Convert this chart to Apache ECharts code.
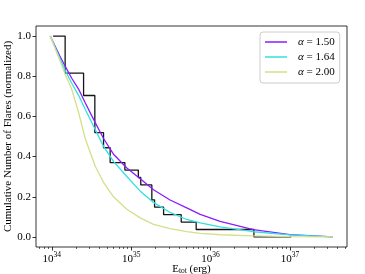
<!DOCTYPE html>
<html><head><meta charset="utf-8">
<script src="https://cdn.jsdelivr.net/npm/echarts@6/dist/echarts.min.js"></script>
<style>html,body{margin:0;padding:0;background:#fff}#c{width:365px;height:274px}</style>
</head><body><div id="c"></div>
<script>
const FONT = '"Liberation Serif", "DejaVu Serif", serif';

// Observed flares: total energy (erg) and normalized cumulative number
const flareEnergy = [1.035e34, 1.47e34, 2.51e34, 3.48e34, 4.48e34, 5.43e34, 8.32e34, 1.23e35, 1.32e35, 1.82e35, 1.97e35, 2.56e35, 4.27e35, 6.59e35, 3.52e36, 1.04e37];
const flareCumulative = [1.0, 0.815, 0.704, 0.519, 0.444, 0.370, 0.333, 0.296, 0.259, 0.185, 0.148, 0.111, 0.074, 0.037, 0.0, 0.0];

// Model curves
const modelEnergy = [9.53e33, 1.26e34, 1.47e34, 1.78e34, 2.17e34, 2.63e34, 3.52e34, 4.48e34, 5.98e34, 8.81e34, 1.30e35, 1.91e35, 3.09e35, 5.01e35, 7.41e35, 1.32e36, 3.47e36, 1.00e37, 3.47e37];
const modelAlpha150 = [1.0, 0.90, 0.85, 0.79, 0.736, 0.668, 0.569, 0.49, 0.412, 0.343, 0.29, 0.235, 0.184, 0.145, 0.112, 0.078, 0.036, 0.012, 0.0];
const modelAlpha164 = [1.0, 0.89, 0.83, 0.765, 0.705, 0.636, 0.535, 0.451, 0.376, 0.301, 0.228, 0.172, 0.122, 0.087, 0.070, 0.050, 0.026, 0.010, 0.0];
const modelAlpha200 = [1.0, 0.88, 0.81, 0.735, 0.62, 0.49, 0.352, 0.272, 0.20, 0.138, 0.095, 0.063, 0.042, 0.027, 0.018, 0.011, 0.005, 0.002, 0.0];

const seriesNames = ['α = 1.50', 'α = 1.64', 'α = 2.00'];
const seriesColors = ['#8a1cff', '#30e2e0', '#d5df8a'];

const xTickExponents = [34, 35, 36, 37];
const yTickValues = [0, 0.2, 0.4, 0.6, 0.8, 1.0];

const X_MIN = 33.8, X_MAX = 37.72;
const minorTicks = [];
for (let n = 33; n <= 37; n++) for (let k = 2; k <= 9; k++) {
  const v = n + Math.log10(k);
  if (v > X_MIN && v < X_MAX) minorTicks.push(v);
}

const pairs = (xs, ys) => xs.map((e, i) => [Math.log10(e), ys[i]]);
const modelValues = [modelAlpha150, modelAlpha164, modelAlpha200];

const chart = echarts.init(document.getElementById('c'), null, {renderer: 'canvas'});
chart.setOption({
  animation: false,
  backgroundColor: '#fff',
  textStyle: {fontFamily: FONT},
  grid: {left: 36, right: 18, top: 26, bottom: 27, show: true, borderColor: '#000', borderWidth: 0.8,
         backgroundColor: 'transparent', containLabel: false, outerBoundsMode: 'none'},
  legend: {
    data: seriesNames, orient: 'vertical', left: 260, top: 32,
    icon: 'rect', itemWidth: 22, itemHeight: 1.5, itemGap: 3,
    padding: [4, 5, 5, 5],
    borderColor: '#cccccc', borderWidth: 1, borderRadius: 3, backgroundColor: '#fff',
    textStyle: {fontFamily: FONT, fontSize: 11, color: '#000', padding: [0, 0, 0, 6], lineHeight: 12,
      rich: {a: {fontFamily: FONT, fontSize: 11, fontStyle: 'italic', color: '#000', lineHeight: 12},
             t: {fontFamily: FONT, fontSize: 11, color: '#000', lineHeight: 12}}},
    formatter: name => '{a|α}{t| = ' + name.split('= ')[1] + '}'
  },
  xAxis: [{
    type: 'value', min: X_MIN, max: X_MAX, gridIndex: 0,
    axisLine: {show: false, onZero: false},
    splitLine: {show: false},
    axisTick: {show: true, length: 3.5, lineStyle: {color: '#000', width: 0.8}, customValues: xTickExponents},
    axisLabel: {customValues: xTickExponents, margin: 4, color: '#000',
      formatter: v => '{b|10}{p|' + Math.round(v) + '}',
      rich: {b: {fontFamily: FONT, fontSize: 11, lineHeight: 14, verticalAlign: 'bottom', color: '#000'},
             p: {fontFamily: FONT, fontSize: 7.5, lineHeight: 8, verticalAlign: 'top', color: '#000'}}},
    name: '{n|E}{s|tot}{n| (erg)}', nameLocation: 'middle', nameGap: 16.5, nameMoveOverlap: false,
    nameTextStyle: {rich: {n: {fontFamily: FONT, fontSize: 11, lineHeight: 12, verticalAlign: 'top', color: '#000'},
                           s: {fontFamily: FONT, fontSize: 7.5, lineHeight: 8, verticalAlign: 'bottom', padding: [5, 0, 0, 0], color: '#000'}}}
  }, {
    type: 'value', min: X_MIN, max: X_MAX, gridIndex: 0, position: 'bottom',
    axisLine: {show: false, onZero: false}, splitLine: {show: false}, axisLabel: {show: false},
    axisTick: {show: true, length: 2, lineStyle: {color: '#000', width: 0.6}, customValues: minorTicks}
  }],
  yAxis: {
    type: 'value', min: -0.05, max: 1.05,
    axisLine: {show: false, onZero: false}, splitLine: {show: false},
    axisTick: {show: true, length: 3.5, lineStyle: {color: '#000', width: 0.8}, customValues: yTickValues},
    axisLabel: {customValues: yTickValues, margin: 5, color: '#000', fontFamily: FONT, fontSize: 11,
      formatter: v => v.toFixed(1)},
    name: 'Cumulative Number of Flares (normalized)', nameLocation: 'middle', nameGap: 22, nameMoveOverlap: false,
    nameTextStyle: {fontFamily: FONT, fontSize: 11, color: '#000'}
  },
  series: [{
    type: 'line', name: 'observed', step: 'end', symbol: 'none', z: 2,
    data: pairs(flareEnergy, flareCumulative),
    lineStyle: {color: '#151515', width: 1.3}
  }].concat(seriesNames.map((nm, i) => ({
    type: 'line', name: nm, symbol: 'none', z: 3,
    data: pairs(modelEnergy, modelValues[i]),
    color: seriesColors[i],
    lineStyle: {color: seriesColors[i], width: 1.3}
  })))
});
</script></body></html>
